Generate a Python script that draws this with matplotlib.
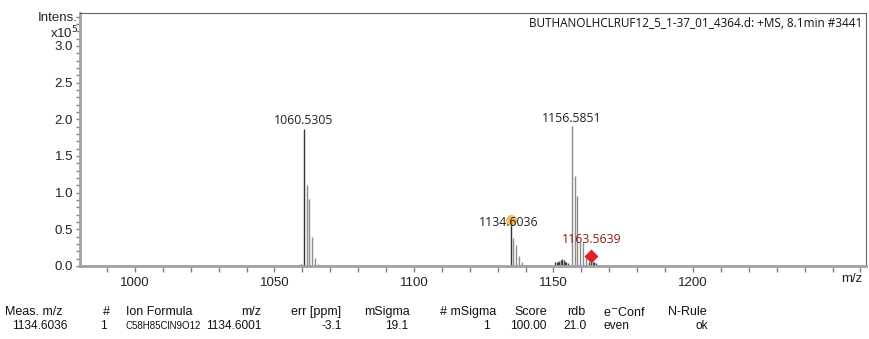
import matplotlib
matplotlib.use("Agg")
import matplotlib.pyplot as plt
from matplotlib.ticker import MultipleLocator, FuncFormatter, FormatStrFormatter

# spectrum data (intensity in units of 1e5)
mz = [1059.53, 1060.5305, 1061.53, 1062.53, 1063.54, 1064.54, 1065.54,
      1078.6, 1079.1,
      1134.6036, 1135.61, 1136.61, 1137.61, 1138.61, 1139.61, 1140.6, 1141.6,
      1150.6, 1151.1, 1151.6, 1152.1, 1152.6, 1153.1, 1153.6, 1154.1, 1154.6, 1155.1,
      1156.5851, 1157.59, 1158.59, 1159.59, 1160.59, 1161.59, 1162.59,
      1163.5639, 1164.06, 1164.56, 1165.06, 1165.56, 1166.56,
      1171.5, 1172.5, 1174.5, 1219.5]
intens = [0.03, 1.87, 1.10, 0.91, 0.40, 0.11, 0.03,
          0.01, 0.01,
          0.63, 0.38, 0.29, 0.14, 0.06, 0.02, 0.02, 0.02,
          0.05, 0.05, 0.06, 0.07, 0.08, 0.10, 0.08, 0.06, 0.05, 0.04,
          1.91, 1.23, 0.95, 0.33, 0.33, 0.15, 0.05,
          0.05, 0.05, 0.05, 0.04, 0.02, 0.01,
          0.01, 0.01, 0.01, 0.01]

labels_mz = [1060.5305, 1156.5851, 1134.6036]
labels_txt = ["1060.5305", "1156.5851", "1134.6036"]
red_mz = 1163.5639
red_y = 0.14

header = ["Meas. m/z", "#", "Ion Formula", "m/z", "err [ppm]", "mSigma", "# mSigma",
          "Score", "rdb", "e$^{-}$Conf", "N-Rule"]
row = ["1134.6036", "1", "C58H85ClN9O12", "1134.6001", "-3.1", "19.1", "1",
       "100.00", "21.0", "even", "ok"]

W, H = 870, 339
fig = plt.figure(figsize=(W / 100, H / 100), dpi=100)
ax = fig.add_axes([80 / W, 1 - 266 / H, (866 - 80) / W, (266 - 13) / H])

dark = set([1060.5305, 1134.6036, 1059.53])
for m, v in zip(mz, intens):
    c = "#333333" if m in dark else ("#404040" if 1150 < m < 1156 or 1162 < m < 1167 else "#8c8c8c")
    ax.vlines(m, 0, v, color=c, lw=1.0)

ax.set_xlim(980.3, 1262)
ax.set_ylim(0, 3.45)

lab_font = ["Open Sans", "DejaVu Sans"]
for m, t in zip(labels_mz, labels_txt):
    v = intens[mz.index(m)]
    if m == 1134.6036:
        ax.plot(m, v, "o", ms=8, color="#f5a623", alpha=0.75, mec="none", zorder=3)
        ax.annotate(t, (m, v), xytext=(-1, -2), textcoords="offset points",
                    ha="center", va="center", fontsize=8.8, family=lab_font, color="#222222")
    else:
        ax.annotate(t, (m, v), xytext=(0, 1), textcoords="offset points",
                    ha="center", va="bottom", fontsize=8.8, family=lab_font, color="#222222")

ax.plot(red_mz, red_y, "D", ms=7, color="#e0202a", mec="none", zorder=3)
ax.annotate("1163.5639", (red_mz, red_y), xytext=(0, 7), textcoords="offset points",
            ha="center", va="bottom", fontsize=8.8, family=lab_font, color="#8b1a1a")

ax.text(0.995, 0.985, "BUTHANOLHCLRUF12_5_1-37_01_4364.d: +MS, 8.1min #3441",
        transform=ax.transAxes, ha="right", va="top", fontsize=8.5, family=lab_font,
        color="#111111")

# axes style
for s in ["left", "bottom"]:
    ax.spines[s].set_color("#a0a0a0")
    ax.spines[s].set_linewidth(2)
for s in ["top", "right"]:
    ax.spines[s].set_color("#666666")
    ax.spines[s].set_linewidth(0.8)

ax.xaxis.set_major_locator(MultipleLocator(50))
ax.xaxis.set_minor_locator(MultipleLocator(10))
ax.yaxis.set_major_locator(MultipleLocator(0.5))
ax.yaxis.set_minor_locator(MultipleLocator(0.1))
ax.tick_params(which="both", direction="out", color="#808080", width=1)
ax.tick_params(axis="x", which="both", length=4, pad=4)
ax.tick_params(axis="y", which="both", length=3, pad=2)
ax.tick_params(top=False, right=False)
ax.yaxis.set_major_formatter(FormatStrFormatter("%.1f"))
# the last major tick is left unlabelled, m/z sits there
ax.xaxis.set_major_formatter(FuncFormatter(lambda x, p: "" if x > 1225 else "%d" % x))
for lab in ax.get_xticklabels() + ax.get_yticklabels():
    lab.set_family("Liberation Sans")
    lab.set_fontsize(9.5)
    lab.set_color("#222222")

fig.text(862 / W, 1 - 279 / H, "m/z", ha="right", va="center", fontsize=9.5,
         family="Liberation Sans", color="#222222")
fig.text(78 / W, 1 - 18 / H, "Intens.", ha="right", va="center", fontsize=9.5,
         family="Liberation Sans", color="#222222")
fig.text(78 / W, 1 - 33 / H, "x10$^5$", ha="right", va="center", fontsize=9.5,
         family="Liberation Sans", color="#222222")

# table under the spectrum
col_x = [67, 107, 126, 261, 342, 408, 490, 546, 587, 603, 708]
col_ha = ["right", "right", "left", "right", "right", "right", "right", "right", "right", "left", "right"]
head_x = [5, 103, 126, 261, 291, 364, 440, 514, 567, 603, 668]
head_ha = ["left", "left", "left", "right", "left", "left", "left", "left", "left", "left", "left"]
for hx, ha, h in zip(head_x, head_ha, header):
    fig.text(hx / W, 1 - 312 / H, h, ha=ha, va="center", fontsize=9,
             family="Liberation Sans", color="#111111")
for cx, ha, r in zip(col_x, col_ha, row):
    fs = 7.0 if r.startswith("C58") else 8.6
    fig.text(cx / W, 1 - 326 / H, r, ha=ha, va="center", fontsize=fs,
             family="Liberation Sans", color="#111111")

fig.savefig("out.png", dpi=100)
